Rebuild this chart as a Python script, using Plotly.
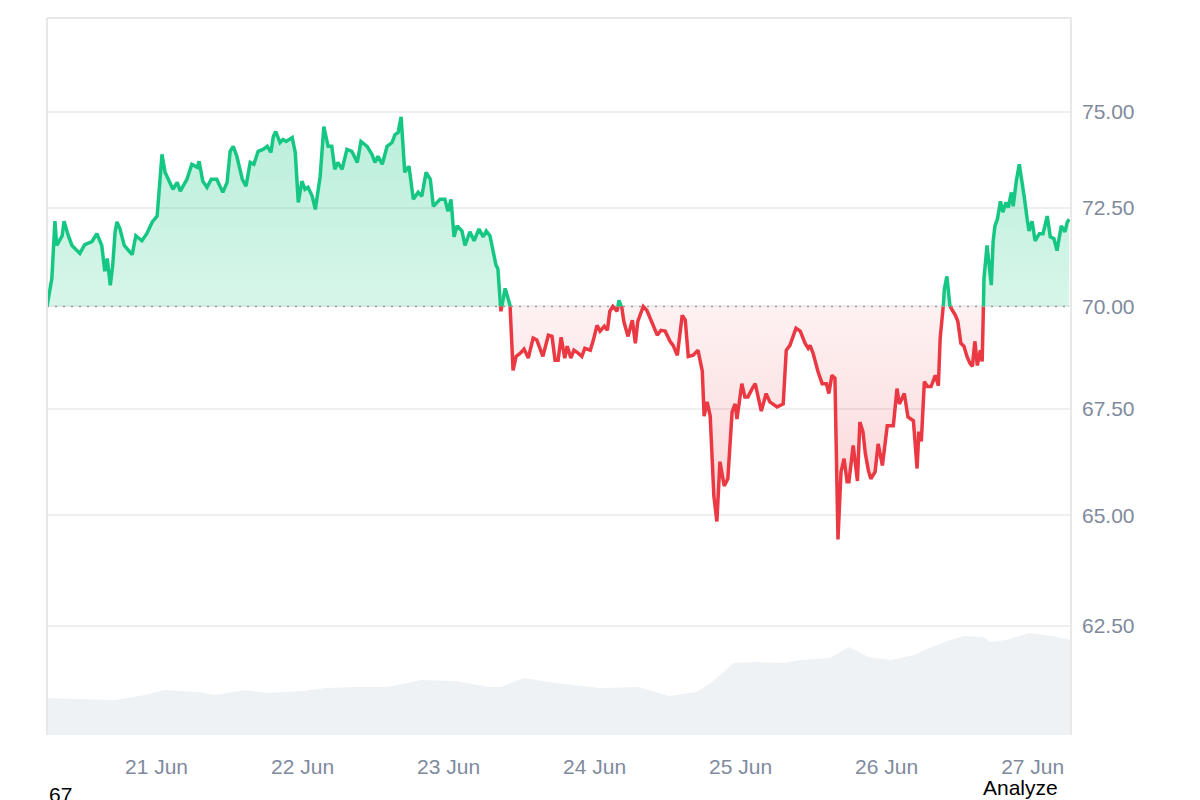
import plotly.graph_objects as go
import pandas as pd
import numpy as np

# ---------------- data ----------------
START = pd.Timestamp("2024-06-20 06:00")
BASE = 70.0

hours = [0.0, 0.8, 1.3, 1.6, 2.5, 2.8, 3.5, 4.1, 5.4, 6.2, 7.4, 8.2, 9.0, 9.5, 9.9, 10.4, 10.8, 11.2, 11.5, 12.0,
         12.7, 14.0, 14.6, 15.6, 16.4, 17.3, 18.1, 18.9, 19.4, 20.7, 21.4, 21.9, 23.0, 23.8, 24.7, 25.0, 25.6, 26.3,
         27.0, 27.9, 28.9, 29.6, 30.1, 30.6, 31.2, 32.1, 32.7, 33.4, 34.0, 34.7, 35.5, 36.2, 36.8, 37.2, 37.6, 38.3,
         38.8, 39.3, 40.3, 40.8, 41.3, 41.9, 42.4, 42.9, 43.6, 44.1, 44.9, 45.5, 46.2, 46.8, 47.3, 47.8, 48.5, 49.3,
         50.1, 51.0, 51.6, 52.6, 53.4, 53.9, 54.4, 55.1, 55.9, 56.7, 57.2, 57.7, 58.2, 58.8, 59.5, 60.2, 61.0, 61.6,
         62.3, 63.0, 63.5, 64.6, 65.4, 65.9, 66.4, 66.9, 67.4, 68.2, 68.7, 69.5, 70.2, 71.0, 71.7, 72.2, 72.8, 73.3,
         73.8, 74.1, 74.6, 75.3, 76.1, 76.6, 77.1, 77.8, 78.4, 79.1, 79.9, 80.5, 81.5, 82.4, 83.0, 83.5, 84.0, 84.5,
         85.1, 85.5, 86.1, 86.6, 87.3, 87.9, 88.4, 89.3, 89.8, 90.4, 90.9, 91.6, 92.1, 92.5, 93.0, 93.7, 94.0, 94.5,
         94.8, 95.5, 96.2, 96.7, 97.1, 98.0, 98.6, 99.1, 100.3, 100.9, 101.6, 102.4, 102.9, 103.6, 104.4, 104.9,
         105.4, 106.2, 107.0, 107.7, 108.0, 108.5, 109.0, 109.3, 109.6, 110.1, 110.6, 111.3, 111.9, 112.6, 113.1,
         113.4, 113.9, 114.2, 114.7, 115.2, 115.9, 116.4, 117.4, 118.2, 118.8, 120.0, 121.0, 121.5, 122.1, 123.1,
         123.8, 124.6, 125.1, 125.4, 125.9, 126.7, 127.4, 128.1, 128.5, 129.0, 129.5, 130.0, 130.5, 131.0, 131.5,
         131.8, 132.5, 133.2, 133.6, 134.1, 134.5, 135.0, 135.4, 136.1, 136.6, 137.3, 138.1, 139.1, 139.7, 140.1,
         140.9, 141.5, 142.4, 142.7, 143.0, 143.3, 143.7, 144.2, 144.7, 145.3, 146.0, 146.5, 146.8, 147.3, 147.5,
         147.9, 148.3, 148.8, 149.3, 149.7, 150.2, 150.7, 151.2, 151.7, 152.1, 152.5, 152.9, 153.4, 153.7, 153.9,
         154.0, 154.5, 155.2, 155.5, 155.8, 156.2, 156.7, 157.1, 157.6, 158.0, 158.5, 158.8, 159.3, 159.8, 160.3,
         160.6, 161.1, 161.4, 161.9, 162.4, 163.1, 163.7, 164.4, 164.9, 165.5, 166.0, 166.7, 167.3, 167.7, 168.0]

price = [70.00, 70.70, 72.15, 71.53, 71.78, 72.15, 71.78, 71.53, 71.33, 71.55, 71.63, 71.83, 71.53, 70.88, 71.20,
         70.53, 71.03, 71.88, 72.13, 71.95, 71.53, 71.30, 71.78, 71.65, 71.83, 72.13, 72.28, 73.88, 73.41, 72.97,
         73.15, 72.92, 73.23, 73.62, 73.54, 73.70, 73.18, 73.02, 73.23, 73.23, 72.89, 73.15, 73.96, 74.09, 73.83,
         73.23, 73.05, 73.67, 73.62, 73.96, 74.01, 74.09, 73.93, 74.35, 74.48, 74.19, 74.27, 74.22, 74.32, 73.93,
         72.63, 73.18, 72.97, 73.02, 72.79, 72.45, 73.31, 74.61, 74.09, 74.09, 73.49, 73.67, 73.49, 74.01, 73.96,
         73.67, 74.22, 74.09, 73.88, 73.67, 73.83, 73.62, 74.09, 74.19, 74.40, 74.45, 74.87, 73.41, 73.57, 72.71,
         72.89, 72.79, 73.41, 73.23, 72.53, 72.71, 72.71, 72.40, 72.71, 71.75, 72.03, 71.90, 71.53, 71.88, 71.65,
         71.95, 71.75, 71.90, 71.78, 71.45, 71.03, 70.95, 69.88, 70.45, 70.03, 68.43, 68.77, 68.85, 68.95, 68.73,
         69.22, 69.17, 68.77, 69.29, 69.26, 68.68, 68.68, 69.24, 68.73, 69.02, 68.73, 68.92, 68.85, 68.77, 68.97,
         68.92, 69.17, 69.53, 69.39, 69.51, 69.41, 69.88, 70.00, 69.88, 70.15, 69.95, 69.63, 69.26, 69.66, 69.09,
         69.63, 70.00, 69.90, 69.71, 69.29, 69.41, 69.39, 69.14, 69.04, 68.80, 69.78, 69.66, 68.77, 68.80, 68.92,
         68.41, 67.33, 67.67, 67.33, 66.39, 65.45, 64.86, 66.25, 65.68, 65.85, 67.43, 67.62, 67.26, 67.75, 68.11,
         67.79, 67.79, 67.99, 68.11, 67.45, 67.87, 67.67, 67.55, 67.62, 68.92, 69.04, 69.46, 69.39, 69.09, 68.97,
         69.04, 68.85, 68.41, 68.11, 68.11, 67.87, 68.31, 68.24, 64.45, 66.01, 66.32, 65.78, 65.78, 66.63, 65.80,
         67.19, 66.96, 66.44, 66.04, 65.85, 66.01, 66.67, 66.16, 67.10, 67.10, 67.99, 67.62, 67.87, 67.31, 67.22,
         66.49, 66.09, 66.96, 66.73, 68.16, 68.04, 68.04, 68.31, 68.06, 69.22, 70.00, 70.45, 70.75, 70.03, 69.90,
         69.78, 69.63, 69.09, 69.02, 68.77, 68.60, 68.53, 69.14, 68.55, 68.92, 68.65, 69.95, 70.70, 71.53, 70.53,
         71.63, 72.03, 72.20, 72.66, 72.38, 72.63, 72.50, 72.89, 72.53, 73.18, 73.62, 73.15, 72.79, 72.20, 71.90,
         72.15, 71.65, 71.83, 71.83, 72.28, 71.75, 71.70, 71.40, 72.03, 71.88, 72.13, 72.20]

vol_hours = [0.0, 11.2, 16.1, 19.4, 25.0, 27.5, 32.5, 36.3, 41.9, 45.7, 50.8, 55.9, 61.5, 67.1, 72.8, 74.6, 78.4,
             83.5, 90.9, 97.1, 102.2, 106.7, 109.1, 112.9, 116.1, 121.1, 123.6, 128.7, 131.8, 135.0, 138.7, 142.5,
             145.0, 147.5, 150.7, 153.9, 155.0, 157.6, 161.4, 165.2, 168.3]
volume = [370, 350, 400, 450, 430, 400, 450, 420, 440, 470, 480, 480, 550, 540, 480, 480, 570, 520, 470, 480, 390,
          430, 520, 720, 730, 720, 750, 770, 880, 780, 750, 800, 870, 930, 990, 980, 930, 950, 1020, 990, 950]

date_ticks = ["2024-06-21", "2024-06-22", "2024-06-23", "2024-06-24", "2024-06-25", "2024-06-26", "2024-06-27"]
date_labels = ["21 Jun", "22 Jun", "23 Jun", "24 Jun", "25 Jun", "26 Jun", "27 Jun"]
price_ticks = [62.5, 65.0, 67.5, 70.0, 72.5, 75.0]
price_labels = ["62.50", "65.00", "67.50", "70.00", "72.50", "75.00"]

# ---------------- split at the baseline ----------------
xs, ys = [], []
for i in range(len(price)):
    if i > 0:
        p0, p1 = price[i - 1], price[i]
        if (p0 - BASE) * (p1 - BASE) < 0:
            f = (BASE - p0) / (p1 - p0)
            xs.append(hours[i - 1] + f * (hours[i] - hours[i - 1]))
            ys.append(BASE)
    xs.append(hours[i])
    ys.append(price[i])

t = START + pd.to_timedelta(np.array(xs), unit="h")
ys = np.array(ys)
green_line = [v if v >= BASE else None for v in ys]
red_line = [v if v <= BASE else None for v in ys]
green_fill = np.maximum(ys, BASE)
red_fill = np.minimum(ys, BASE)
base = np.full(len(ys), BASE)

GREEN = "#16c784"
RED = "#ea3943"
GREY_TXT = "#808a9d"
FONT = "Liberation Sans, Arial, sans-serif"

fig = go.Figure()

# volume area
fig.add_trace(go.Scatter(
    x=START + pd.to_timedelta(np.array(vol_hours), unit="h"), y=volume, yaxis="y2",
    mode="lines", line=dict(width=0, color="#eff2f5"), fill="tozeroy", fillcolor="#eff2f5",
    hoverinfo="skip", showlegend=False))

# green fill
fig.add_trace(go.Scatter(x=t, y=base, mode="lines", line=dict(width=0), hoverinfo="skip", showlegend=False))
fig.add_trace(go.Scatter(
    x=t, y=green_fill, mode="lines", line=dict(width=0), fill="tonexty",
    fillgradient=dict(type="vertical",
                      colorscale=[[0, "rgba(22,199,132,0.17)"], [1, "rgba(22,199,132,0.30)"]]),
    hoverinfo="skip", showlegend=False))
# red fill
fig.add_trace(go.Scatter(x=t, y=base, mode="lines", line=dict(width=0), hoverinfo="skip", showlegend=False))
fig.add_trace(go.Scatter(
    x=t, y=red_fill, mode="lines", line=dict(width=0), fill="tonexty",
    fillgradient=dict(type="vertical",
                      colorscale=[[0, "rgba(234,57,67,0.22)"], [1, "rgba(234,57,67,0.07)"]]),
    hoverinfo="skip", showlegend=False))

# lines
fig.add_trace(go.Scatter(x=t, y=green_line, mode="lines", line=dict(color=GREEN, width=3.5),
                         connectgaps=False, showlegend=False))
fig.add_trace(go.Scatter(x=t, y=red_line, mode="lines", line=dict(color=RED, width=3.5),
                         connectgaps=False, showlegend=False))

# baseline
fig.add_shape(type="line", xref="paper", x0=0, x1=1, yref="y", y0=BASE, y1=BASE,
              line=dict(color="#9a9a9a", width=1.5, dash="2px,6px"), layer="above")
# frame (left, top, right)
frame = dict(color="#e8e8e8", width=2)
fig.add_shape(type="line", xref="paper", yref="paper", x0=0, x1=0, y0=0, y1=1, line=frame, layer="above")
fig.add_shape(type="line", xref="paper", yref="paper", x0=0, x1=1, y0=1, y1=1, line=frame, layer="above")
fig.add_shape(type="line", xref="paper", yref="paper", x0=1, x1=1, y0=0, y1=1, line=frame, layer="above")

fig.add_annotation(text="67", xref="paper", yref="paper", x=0.0, y=-0.064, xanchor="left", yanchor="top",
                   showarrow=False, font=dict(family=FONT, size=21, color="#000000"))
fig.add_annotation(text="Analyze", xref="paper", yref="paper", x=0.989, y=-0.054, xanchor="right",
                   yanchor="top", showarrow=False, font=dict(family=FONT, size=21, color="#000000"))

fig.update_layout(
    width=1200, height=800,
    margin=dict(l=47, r=129, t=18, b=65),
    paper_bgcolor="white", plot_bgcolor="white",
    font=dict(family=FONT),
    hovermode=False,
    xaxis=dict(type="date", range=[START, START + pd.Timedelta(hours=168.3)],
               tickvals=pd.to_datetime(date_ticks), ticktext=date_labels,
               showgrid=False, zeroline=False, showline=False, ticks="",
               ticklabelstandoff=17,
               tickfont=dict(family=FONT, size=21, color=GREY_TXT)),
    yaxis=dict(type="log", range=[np.log10(60.13), np.log10(77.54)], side="right",
               tickvals=price_ticks, ticktext=price_labels,
               showgrid=True, gridcolor="#efefef", gridwidth=1.5,
               zeroline=False, showline=False, ticks="", ticklabelstandoff=10,
               tickfont=dict(family=FONT, size=21, color=GREY_TXT)),
    yaxis2=dict(overlaying="y", range=[0, 7170], visible=False),
)

fig.write_html("out.html")
